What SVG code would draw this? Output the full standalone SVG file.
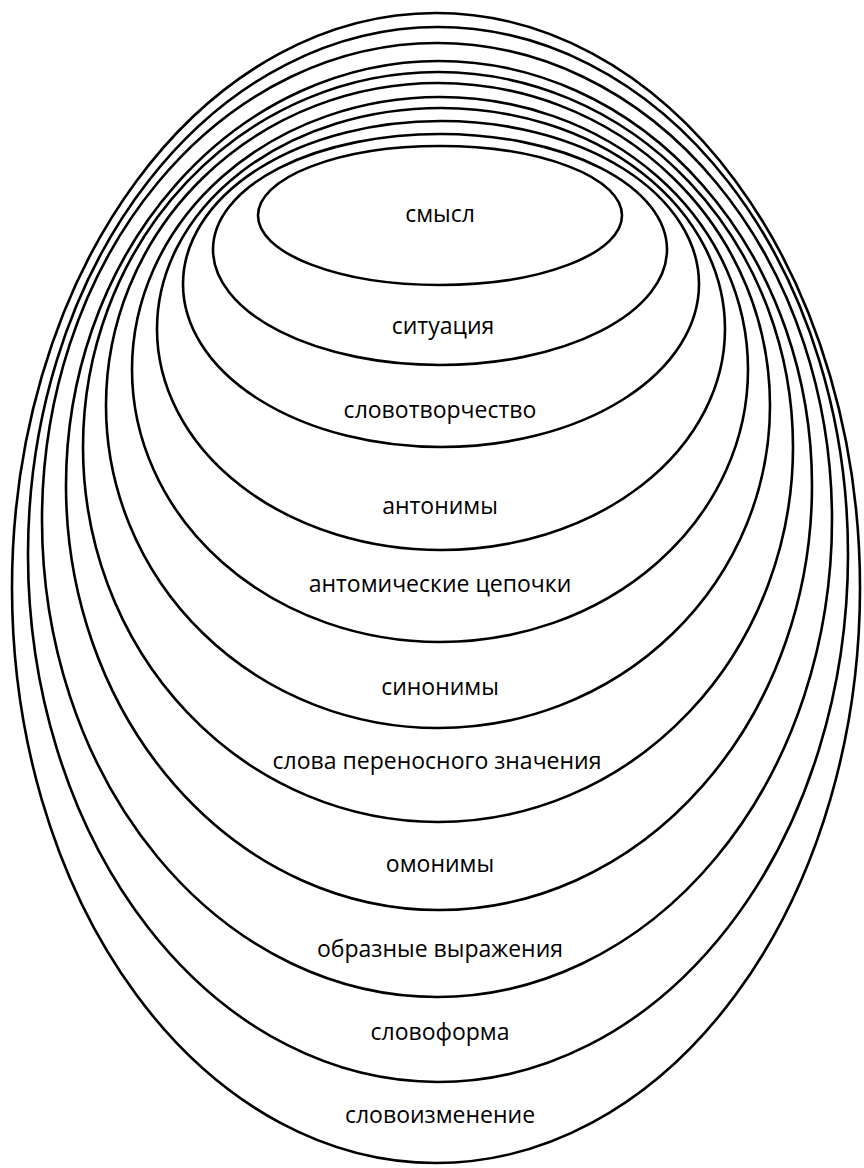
<svg xmlns="http://www.w3.org/2000/svg" width="864" height="1168" viewBox="0 0 864 1168">
<style>
.e{fill:none;stroke:#000;stroke-width:2.6}
.t{font-family:"Open Sans","Noto Sans","Liberation Sans",sans-serif;font-size:23px;fill:#000;text-anchor:middle}
</style>
<rect width="864" height="1168" fill="#fff"/>
<g id="n11"><ellipse class="e" cx="436" cy="588" rx="424" ry="575"/><text class="t" x="440" y="1123">словоизменение</text></g>
<g id="n10"><ellipse class="e" cx="438" cy="554.5" rx="410" ry="527.5"/><text class="t" x="440" y="1040">словоформа</text></g>
<g id="n9"><ellipse class="e" cx="437" cy="520" rx="395" ry="477"/><text class="t" x="440" y="957">образные выражения</text></g>
<g id="n8"><ellipse class="e" cx="439" cy="485.5" rx="373" ry="424.5"/><text class="t" x="440" y="872">омонимы</text></g>
<g id="n7"><ellipse class="e" cx="438" cy="447" rx="355" ry="375"/><text class="t" x="437" y="769">слова переносного значения</text></g>
<g id="n6"><ellipse class="e" cx="438" cy="405.5" rx="332" ry="322.5"/><text class="t" x="440" y="695">синонимы</text></g>
<g id="n5"><ellipse class="e" cx="440" cy="369.5" rx="308" ry="272.5"/><text class="t" x="440" y="592">антомические цепочки</text></g>
<g id="n4"><ellipse class="e" cx="441" cy="329" rx="284" ry="221"/><text class="t" x="440" y="514">антонимы</text></g>
<g id="n3"><ellipse class="e" cx="441" cy="284" rx="258" ry="163"/><text class="t" x="440" y="418">словотворчество</text></g>
<g id="n2"><ellipse class="e" cx="440" cy="249.5" rx="227" ry="115.5"/><text class="t" x="443" y="334">ситуация</text></g>
<g id="n1"><ellipse class="e" cx="440" cy="215.5" rx="182" ry="69.5"/><text class="t" x="440" y="222">смысл</text></g>
<g id="connectors"/>
</svg>
